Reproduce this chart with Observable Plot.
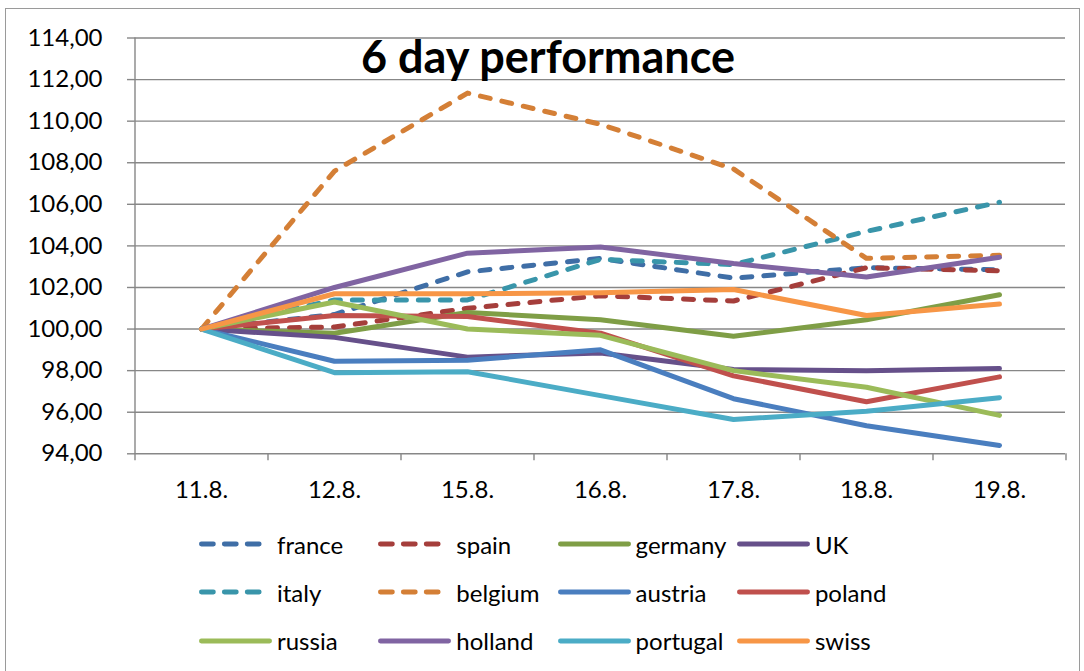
<!DOCTYPE html>
<html>
<head>
<meta charset="utf-8">
<script src="https://cdn.jsdelivr.net/npm/d3@7"></script>
<script src="https://cdn.jsdelivr.net/npm/@observablehq/plot@0.6"></script>
<style>
  html, body { margin: 0; padding: 0; background: #fff; }
  #wrap { position: relative; width: 1084px; height: 671px; overflow: hidden; font-family: Lato, "Open Sans", sans-serif; }
  #frame { position: absolute; left: 5px; top: 8px; width: 1075px; height: 700px; border: 1px solid #9a9a9a; box-sizing: border-box; }
  #chart { position: absolute; left: 0; top: 0; }
  #title { position: absolute; left: 548px; top: 29px; transform: translateX(-50%); font-weight: 700; font-size: 45px; color: #000; white-space: nowrap; }
  .item { position: absolute; height: 30px; display: flex; align-items: center; font-size: 24px; color: #000; white-space: nowrap; }
  .item svg { display: block; flex: none; }
</style>
</head>
<body>
<div id="wrap">
  <div id="frame"></div>
  <div id="chart"></div>
  <div id="title">6 day performance</div>
  <div id="legend"></div>
</div>
<script>
// Trading days
const dates = ["11.8.", "12.8.", "15.8.", "16.8.", "17.8.", "18.8.", "19.8."];

// Index values per market (11.8. = 100)
const france   = [100, 100.70, 102.75, 103.40, 102.45, 102.95, 102.85];
const spain    = [100, 100.10, 101.00, 101.60, 101.35, 102.95, 102.80];
const germany  = [100,  99.80, 100.80, 100.45,  99.65, 100.45, 101.65];
const uk       = [100,  99.60,  98.65,  98.85,  98.05,  98.00,  98.10];
const italy    = [100, 101.40, 101.40, 103.35, 103.10, 104.70, 106.10];
const belgium  = [100, 107.60, 111.35, 109.85, 107.70, 103.40, 103.55];
const austria  = [100,  98.45,  98.50,  99.00,  96.65,  95.35,  94.40];
const poland   = [100, 100.65, 100.60,  99.80,  97.75,  96.50,  97.70];
const russia   = [100, 101.30, 100.00,  99.70,  98.00,  97.20,  95.85];
const holland  = [100, 102.00, 103.65, 103.95, 103.15, 102.50, 103.45];
const portugal = [100,  97.90,  97.95,  96.80,  95.65,  96.05,  96.70];
const swiss    = [100, 101.70, 101.70, 101.75, 101.90, 100.65, 101.20];

// Series names, in legend order
const names = ["france", "spain", "germany", "UK", "italy", "belgium", "austria", "poland", "russia", "holland", "portugal", "swiss"];
const values = [france, spain, germany, uk, italy, belgium, austria, poland, russia, holland, portugal, swiss];

// Y axis ticks
const yTicks = d3.range(94, 114.01, 2);

// Line styling
const colors = ["#3F6EA6", "#A53E3B", "#7F9E46", "#66508A", "#3995AA", "#D47F36",
                "#4A7EBF", "#C0504D", "#9BBB59", "#8064A2", "#4BACC6", "#F79646"];
const dashed = [true, true, false, false, true, true, false, false, false, false, false, false];

const rows = names.flatMap((name, i) => dates.map((date, j) => ({country: name, date, value: values[i][j]})));

const W = 1084, H = 520;
const mL = 134, mR = 19, mT = 37.5, mB = 66.7;
const step = (W - mL - mR) / dates.length;
const grid = "#878787";

const chart = Plot.plot({
  width: W,
  height: H,
  marginLeft: mL,
  marginRight: mR,
  marginTop: mT,
  marginBottom: mB,
  style: {fontFamily: "Lato, 'Open Sans', sans-serif", fontSize: "24px", color: "#000", background: "transparent"},
  x: {type: "point", domain: dates, padding: 0.5},
  y: {domain: [94, 114]},
  marks: [
    Plot.ruleY(yTicks, {stroke: grid, strokeWidth: 1.4}),
    // left axis line and category separators
    Plot.ruleX([dates[0]], {y1: 94, y2: 114, stroke: grid, strokeWidth: 1.4, dx: -step / 2}),
    Plot.ruleX(dates, {x: d => d, y1: 94, y2: 94, insetBottom: -7, stroke: grid, strokeWidth: 1.4, dx: -step / 2}),
    Plot.ruleX([dates[dates.length - 1]], {x: d => d, y1: 94, y2: 94, insetBottom: -7, stroke: grid, strokeWidth: 1.4, dx: step / 2}),
    Plot.axisY(yTicks, {
      tickSize: 7, tickPadding: 25, stroke: grid, strokeWidth: 1.4,
      tickFormat: d => d.toFixed(2).replace(".", ","), fontSize: 24, label: null
    }),
    Plot.axisX(dates, {tickSize: 0, tickPadding: 27, fontSize: 24, label: null}),
    ...names.map((name, i) => Plot.line(rows.filter(r => r.country === name), {
      x: "date", y: "value",
      stroke: colors[i], strokeWidth: 5,
      strokeDasharray: dashed[i] ? "10,12" : null,
      strokeLinecap: "round", strokeLinejoin: "round"
    }))
  ]
});
document.getElementById("chart").appendChild(chart);

// Legend: 4 columns x 3 rows
const legend = document.getElementById("legend");
const svgNS = "http://www.w3.org/2000/svg";
names.forEach((name, i) => {
  const col = i % 4, row = Math.floor(i / 4);
  const item = document.createElement("div");
  item.className = "item";
  item.style.left = (199 + col * 179.3) + "px";
  item.style.top = (529 + row * 48.3) + "px";
  const svg = document.createElementNS(svgNS, "svg");
  svg.setAttribute("width", 78);
  svg.setAttribute("height", 12);
  const ln = document.createElementNS(svgNS, "line");
  ln.setAttribute("x1", 2.4); ln.setAttribute("x2", dashed[i] ? 61 : 70.6);
  ln.setAttribute("y1", 6); ln.setAttribute("y2", 6);
  ln.setAttribute("stroke", colors[i]);
  ln.setAttribute("stroke-width", 4.8);
  ln.setAttribute("stroke-linecap", "round");
  if (dashed[i]) ln.setAttribute("stroke-dasharray", "12,10.9");
  svg.appendChild(ln);
  const label = document.createElement("span");
  label.textContent = name;
  item.appendChild(svg);
  item.appendChild(label);
  legend.appendChild(item);
});
</script>
</body>
</html>
